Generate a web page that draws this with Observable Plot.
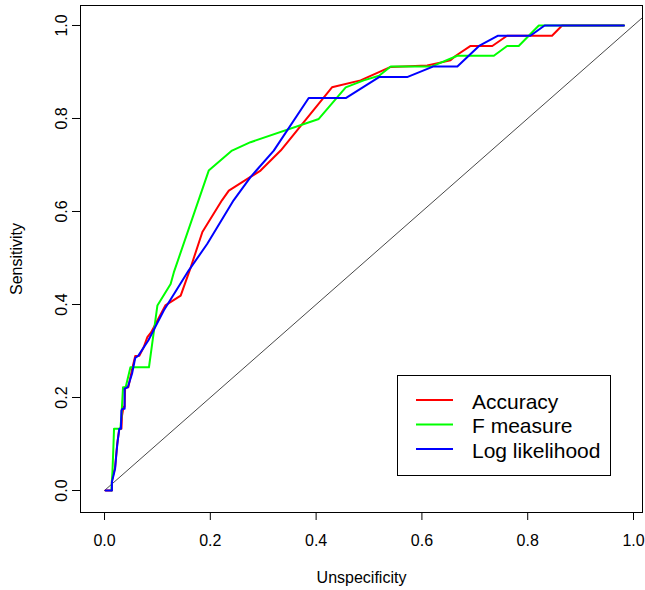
<!DOCTYPE html>
<html><head><meta charset="utf-8">
<script src="https://cdn.jsdelivr.net/npm/d3@7"></script>
<script src="https://cdn.jsdelivr.net/npm/@observablehq/plot@0.6"></script>
<style>
body{margin:0;background:#fff;}
#wrap{position:relative;width:645px;height:590px;font-family:"Liberation Sans",Arial,sans-serif;}
#legend{position:absolute;left:397px;top:375px;}
</style>
</head><body><div id="wrap"></div>
<script>
const seriesNames = ["Accuracy", "F measure", "Log likelihood"];
const seriesColors = ["#ff0000", "#00ff00", "#0000ff"];

const accuracyX = [0.002,0.014,0.014,0.020,0.024,0.028,0.032,0.033,0.036,0.038,0.039,0.045,0.052,0.058,0.066,0.074,0.081,0.088,0.115,0.144,0.163,0.185,0.222,0.235,0.270,0.295,0.333,0.430,0.484,0.541,0.610,0.654,0.664,0.692,0.733,0.761,0.846,0.865,0.982];
const accuracyY = [0,0,0.022,0.050,0.100,0.133,0.133,0.160,0.180,0.180,0.222,0.222,0.260,0.289,0.290,0.308,0.330,0.340,0.398,0.419,0.480,0.556,0.624,0.645,0.670,0.688,0.731,0.867,0.882,0.911,0.914,0.925,0.935,0.956,0.956,0.978,0.978,1.0,1.0];

const fMeasureX = [0.013,0.015,0.017,0.018,0.030,0.032,0.035,0.040,0.049,0.084,0.090,0.100,0.125,0.131,0.197,0.241,0.276,0.405,0.456,0.490,0.519,0.541,0.619,0.667,0.736,0.761,0.783,0.821,0.982];
const fMeasureY = [0,0.040,0.100,0.133,0.133,0.160,0.222,0.222,0.265,0.265,0.315,0.398,0.444,0.469,0.688,0.731,0.749,0.799,0.867,0.882,0.892,0.912,0.912,0.935,0.935,0.956,0.956,1.0,1.0];

const logLikX = [0.002,0.014,0.014,0.020,0.023,0.025,0.028,0.031,0.032,0.034,0.038,0.038,0.044,0.052,0.058,0.064,0.083,0.112,0.159,0.194,0.244,0.276,0.320,0.386,0.456,0.519,0.572,0.622,0.667,0.708,0.744,0.805,0.832,0.982];
const logLikY = [0,0,0.018,0.047,0.086,0.108,0.133,0.133,0.172,0.176,0.176,0.219,0.222,0.251,0.285,0.290,0.323,0.387,0.473,0.530,0.624,0.674,0.731,0.844,0.844,0.889,0.889,0.912,0.912,0.956,0.978,0.978,1.0,1.0];

const diagonal = [0, 1.03];
const xTicks = [0, 0.2, 0.4, 0.6, 0.8, 1.0];
const yTicks = [0, 0.2, 0.4, 0.6, 0.8, 1.0];
const xTitle = "Unspecificity";
const yTitle = "Sensitivity";

const toRows = (xs, ys, name) => xs.map((x, i) => ({x, y: ys[i], series: name}));
const series = [
  toRows(accuracyX, accuracyY, seriesNames[0]),
  toRows(fMeasureX, fMeasureY, seriesNames[1]),
  toRows(logLikX, logLikY, seriesNames[2])
];
const diagRows = diagonal.map(v => ({x: v, y: v}));
const fmt = d3.format(".1f");
const FONT = '"Liberation Sans", Arial, sans-serif';

const chart = Plot.plot({
  width: 645,
  height: 590,
  marginLeft: 80,
  marginRight: 3,
  marginTop: 5,
  marginBottom: 78,
  style: {fontFamily: FONT, fontSize: "16px", color: "black", background: "white"},
  x: {domain: [-0.0454, 1.017]},
  y: {domain: [-0.0473, 1.043]},
  color: {domain: seriesNames, range: seriesColors},
  marks: [
    Plot.line(diagRows, {x: "x", y: "y", stroke: "#333", strokeWidth: 0.9, clip: true}),
    ...series.map(rows => Plot.line(rows, {x: "x", y: "y", stroke: "series", strokeWidth: 2, strokeLinejoin: "round", strokeLinecap: "round"})),
    Plot.frame({stroke: "black", strokeWidth: 1}),
    Plot.axisX({ticks: xTicks, tickFormat: fmt, tickSize: 8, tickPadding: 14, fontSize: 16,
      label: xTitle, labelAnchor: "center", labelArrow: false, labelOffset: 70}),
    Plot.axisY({ticks: yTicks, tickFormat: fmt, tickSize: 8, tickPadding: 6, tickRotate: -90, fontSize: 16,
      label: yTitle, labelAnchor: "center", labelArrow: false, labelOffset: 70})
  ]
});
document.getElementById("wrap").appendChild(chart);

// legend
const lw = 213, lh = 100;
const leg = d3.select("#wrap").append("svg").attr("id", "legend").attr("width", lw + 1).attr("height", lh + 1);
leg.append("rect").attr("x", 0.5).attr("y", 0.5).attr("width", lw).attr("height", lh)
  .attr("fill", "white").attr("stroke", "black").attr("stroke-width", 1);
seriesNames.forEach((name, i) => {
  const cy = 25 + i * 24.5;
  leg.append("line").attr("x1", 19).attr("x2", 56).attr("y1", cy).attr("y2", cy)
    .attr("stroke", seriesColors[i]).attr("stroke-width", 2);
  leg.append("text").attr("x", 75).attr("y", cy + 8.5).attr("font-family", FONT)
    .attr("font-size", 21).attr("fill", "black").text(name);
});
</script>
</body></html>
